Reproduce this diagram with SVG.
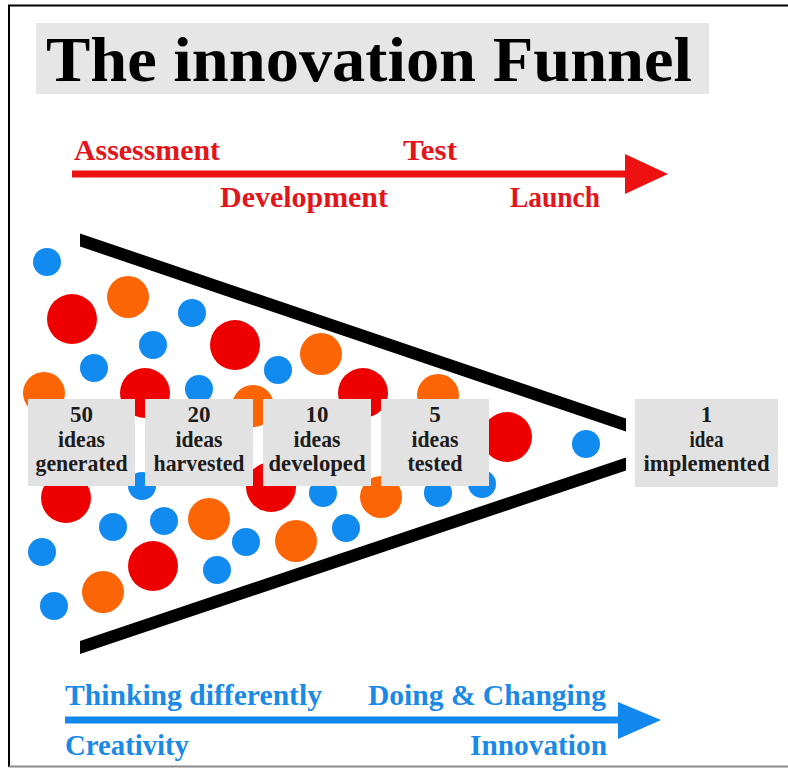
<svg xmlns="http://www.w3.org/2000/svg" width="788" height="768" viewBox="0 0 788 768">
<style>
.bg{fill:#ffffff}
.box{fill:#e3e2e2}
.bl{fill:#118bf0}
.rd{fill:#ef0000}
.or{fill:#fb6505}
.lbl{font-family:"Liberation Serif","Times New Roman",serif;font-weight:bold;font-size:23px;fill:#1c1c1c;text-anchor:middle}
.red{font-family:"Liberation Serif","Times New Roman",serif;font-weight:bold;font-size:29px;fill:#e3151c}
.blue{font-family:"Liberation Serif","Times New Roman",serif;font-weight:bold;font-size:29px;fill:#1a8ae6}
.title{font-family:"Liberation Serif","Times New Roman",serif;font-weight:bold;font-size:64px;fill:#000}
</style>
<rect class="bg" x="0" y="0" width="788" height="768"/>
<g id="frame">
<line x1="8" y1="5.5" x2="788" y2="5.5" stroke="#000" stroke-width="2"/>
<line x1="9" y1="5" x2="9" y2="767" stroke="#000" stroke-width="2"/>
<line x1="9" y1="766.5" x2="788" y2="766.5" stroke="#8a8a8a" stroke-width="2"/>
</g>
<g id="title">
<rect x="36" y="23" width="673" height="71" fill="#e6e6e6"/>
<text class="title" x="46" y="81" textLength="646" lengthAdjust="spacingAndGlyphs">The innovation Funnel</text>
</g>
<g id="circles">
<circle class="bl" cx="47" cy="262" r="14"/>
<circle class="rd" cx="72" cy="319" r="25"/>
<circle class="or" cx="128" cy="297" r="21"/>
<circle class="bl" cx="192" cy="313" r="14"/>
<circle class="bl" cx="153" cy="345" r="14"/>
<circle class="rd" cx="235" cy="345" r="25"/>
<circle class="bl" cx="94" cy="368" r="14"/>
<circle class="or" cx="321" cy="354" r="21"/>
<circle class="bl" cx="278" cy="370" r="14"/>
<circle class="or" cx="44" cy="393" r="21"/>
<circle class="rd" cx="145" cy="393" r="25"/>
<circle class="bl" cx="199" cy="389" r="14"/>
<circle class="or" cx="253" cy="406" r="21"/>
<circle class="rd" cx="363" cy="393" r="25"/>
<circle class="or" cx="438" cy="395" r="21"/>
<circle class="rd" cx="507" cy="437" r="25"/>
<circle class="bl" cx="586" cy="444" r="14"/>
<circle class="rd" cx="66" cy="498" r="25"/>
<circle class="bl" cx="142" cy="486" r="14"/>
<circle class="bl" cx="113" cy="527" r="14"/>
<circle class="bl" cx="164" cy="521" r="14"/>
<circle class="or" cx="209" cy="519" r="21"/>
<circle class="rd" cx="271" cy="487" r="25"/>
<circle class="bl" cx="323" cy="493" r="14"/>
<circle class="or" cx="381" cy="497" r="21"/>
<circle class="bl" cx="438" cy="493" r="14"/>
<circle class="bl" cx="482" cy="484" r="14"/>
<circle class="bl" cx="42" cy="552" r="14"/>
<circle class="rd" cx="153" cy="566" r="25"/>
<circle class="bl" cx="246" cy="542" r="14"/>
<circle class="or" cx="296" cy="541" r="21"/>
<circle class="bl" cx="346" cy="528" r="14"/>
<circle class="bl" cx="217" cy="570" r="14"/>
<circle class="or" cx="103" cy="592" r="21"/>
<circle class="bl" cx="54" cy="606" r="14"/>
</g>
<g id="funnel">
<polygon points="80,233.5 626,418.5 626,431.5 80,246.5" fill="#000"/>
<polygon points="80,641 626,457.5 626,470.5 80,654" fill="#000"/>
</g>
<g id="connectors">
<rect x="72" y="170.5" width="556" height="7" fill="#ee1111"/>
<polygon points="625,154 668,174 625,194" fill="#ee1111"/>
<rect x="65" y="716.5" width="556" height="7" fill="#1188ee"/>
<polygon points="618,702 661,720 618,739" fill="#1188ee"/>
</g>
<g id="node-50">
<rect class="box" x="28" y="399" width="107" height="87"/>
<text class="lbl" x="81.5" y="422">50</text>
<text class="lbl" x="81.5" y="447" textLength="47" lengthAdjust="spacingAndGlyphs">ideas</text>
<text class="lbl" x="81.5" y="471" textLength="92" lengthAdjust="spacingAndGlyphs">generated</text>
</g>
<g id="node-20">
<rect class="box" x="145" y="399" width="108" height="87"/>
<text class="lbl" x="199" y="422">20</text>
<text class="lbl" x="199" y="447" textLength="47" lengthAdjust="spacingAndGlyphs">ideas</text>
<text class="lbl" x="199" y="471" textLength="91" lengthAdjust="spacingAndGlyphs">harvested</text>
</g>
<g id="node-10">
<rect class="box" x="263" y="399" width="108" height="87"/>
<text class="lbl" x="317" y="422">10</text>
<text class="lbl" x="317" y="447" textLength="47" lengthAdjust="spacingAndGlyphs">ideas</text>
<text class="lbl" x="317" y="471" textLength="97" lengthAdjust="spacingAndGlyphs">developed</text>
</g>
<g id="node-5">
<rect class="box" x="381" y="399" width="108" height="87"/>
<text class="lbl" x="435" y="422">5</text>
<text class="lbl" x="435" y="447" textLength="47" lengthAdjust="spacingAndGlyphs">ideas</text>
<text class="lbl" x="435" y="471" textLength="55" lengthAdjust="spacingAndGlyphs">tested</text>
</g>
<g id="node-1">
<rect class="box" x="635" y="399" width="143" height="88"/>
<text class="lbl" x="706.5" y="422">1</text>
<text class="lbl" x="706.5" y="447" textLength="34" lengthAdjust="spacingAndGlyphs">idea</text>
<text class="lbl" x="706.5" y="471" textLength="126" lengthAdjust="spacingAndGlyphs">implemented</text>
</g>
<g id="stage-labels">
<text class="red" x="74" y="160" textLength="146" lengthAdjust="spacingAndGlyphs">Assessment</text>
<text class="red" x="403" y="160" textLength="54" lengthAdjust="spacingAndGlyphs">Test</text>
<text class="red" x="220" y="207" textLength="168" lengthAdjust="spacingAndGlyphs">Development</text>
<text class="red" x="510" y="207" textLength="90" lengthAdjust="spacingAndGlyphs">Launch</text>
<text class="blue" x="65" y="705" textLength="257" lengthAdjust="spacingAndGlyphs">Thinking differently</text>
<text class="blue" x="368" y="705" textLength="238" lengthAdjust="spacingAndGlyphs">Doing &amp; Changing</text>
<text class="blue" x="65" y="755" textLength="124" lengthAdjust="spacingAndGlyphs">Creativity</text>
<text class="blue" x="470" y="755" textLength="137" lengthAdjust="spacingAndGlyphs">Innovation</text>
</g>
</svg>
